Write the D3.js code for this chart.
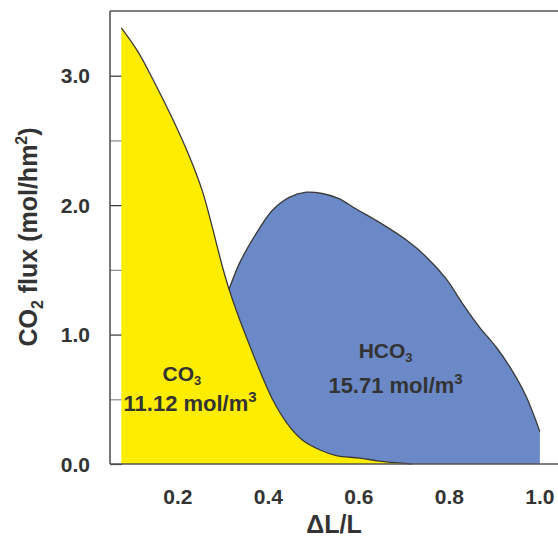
<!DOCTYPE html>
<html>
<head>
<meta charset="utf-8">
<script src="https://cdn.jsdelivr.net/npm/d3@7"></script>
<style>
  html, body { margin: 0; padding: 0; background: #fff; }
  svg { display: block; }
  text { font-family: "Liberation Sans", Arial, Helvetica, sans-serif; font-weight: bold; fill: #333; }
</style>
</head>
<body>
<svg id="chart" width="558" height="537"></svg>
<script>
// CO3 flux profile along the normalised length
const co3X = [0.075, 0.111, 0.148, 0.185, 0.225, 0.254, 0.276, 0.298, 0.314, 0.336, 0.365, 0.387, 0.409, 0.440, 0.475, 0.513, 0.550, 0.601, 0.645, 0.690, 0.718];
const co3Y = [3.37, 3.19, 2.95, 2.69, 2.38, 2.11, 1.83, 1.53, 1.34, 1.12, 0.86, 0.67, 0.50, 0.32, 0.185, 0.11, 0.065, 0.046, 0.023, 0.008, 0.0];

// HCO3 flux profile along the normalised length
const hco3X = [0.300, 0.336, 0.373, 0.409, 0.446, 0.484, 0.519, 0.556, 0.594, 0.639, 0.705, 0.749, 0.793, 0.829, 0.866, 0.904, 0.939, 0.970, 1.000];
const hco3Y = [1.22, 1.55, 1.78, 1.96, 2.06, 2.10, 2.09, 2.05, 1.97, 1.88, 1.73, 1.60, 1.43, 1.24, 1.06, 0.90, 0.72, 0.52, 0.25];

// Axis ticks
const yMajorTicks = [0, 1, 2, 3];
const yMajorLabels = ["0.0", "1.0", "2.0", "3.0"];
const yMinorTicks = [0.5, 1.5, 2.5];
const xTicks = [0.2, 0.4, 0.6, 0.8, 1.0];
const xLabels = ["0.2", "0.4", "0.6", "0.8", "1.0"];

// Integrated concentration annotations
const co3Total = "11.12";
const hco3Total = "15.71";

const svg = d3.select("#chart");
const plotLeft = 110, plotRight = 558, plotTop = 11, plotBottom = 464;

const x = d3.scaleLinear().domain([0.05, 1.04]).range([plotLeft, plotRight]);
const y = d3.scaleLinear().domain([0, 3.5]).range([plotBottom, plotTop]);

const co3 = co3X.map((v, i) => [v, co3Y[i]]);
const hco3 = hco3X.map((v, i) => [v, hco3Y[i]]);

// Y tick marks (inside the frame, beneath the areas)
const yAxis = d3.axisRight(y).tickValues(yMajorTicks).tickSize(12).tickFormat("");
const gy = svg.append("g").attr("transform", `translate(${plotLeft},0)`).call(yAxis);
gy.select(".domain").remove();
gy.selectAll(".tick line").attr("stroke", "#333").attr("stroke-width", 1.2);

const yMinor = d3.axisRight(y).tickValues(yMinorTicks).tickSize(12).tickFormat("");
const gym = svg.append("g").attr("transform", `translate(${plotLeft},0)`).call(yMinor);
gym.select(".domain").remove();
gym.selectAll(".tick line").attr("stroke", "#888").attr("stroke-width", 1.2);

// Smooth area and outline generators
const curve = d3.curveCatmullRom.alpha(0.5);
const areaGen = d3.area().x(d => x(d[0])).y0(y(0)).y1(d => y(Math.max(0, d[1]))).curve(curve);
const lineGen = d3.line().x(d => x(d[0])).y(d => y(d[1])).curve(curve);

// HCO3 area
svg.append("path").datum(hco3).attr("d", areaGen).attr("fill", "#6a89c6");
svg.append("path").datum(hco3).attr("d", lineGen).attr("fill", "none")
  .attr("stroke", "#3a3a3a").attr("stroke-width", 1.3);

// CO3 area on top
svg.append("path").datum(co3).attr("d", areaGen).attr("fill", "#ffed00");
svg.append("path").datum(co3).attr("d", lineGen).attr("fill", "none")
  .attr("stroke", "#3a3a3a").attr("stroke-width", 1.3);

// Frame: left, top and bottom
const frame = svg.append("g").attr("stroke", "#555").attr("stroke-width", 1.6).attr("fill", "none");
frame.append("line").attr("x1", plotLeft).attr("x2", plotLeft).attr("y1", plotTop).attr("y2", plotBottom);
frame.append("line").attr("x1", plotLeft).attr("x2", plotRight).attr("y1", plotTop).attr("y2", plotTop);
frame.append("line").attr("x1", plotLeft).attr("x2", plotRight).attr("y1", plotBottom).attr("y2", plotBottom);

// Tick labels
svg.append("g").selectAll("text").data(yMajorTicks).join("text")
  .attr("x", 90).attr("y", d => y(d)).attr("dy", "0.36em")
  .attr("text-anchor", "end").attr("font-size", 21)
  .text((d, i) => yMajorLabels[i]);

svg.append("g").selectAll("text").data(xTicks).join("text")
  .attr("x", d => x(d)).attr("y", 504)
  .attr("text-anchor", "middle").attr("font-size", 21)
  .text((d, i) => xLabels[i]);

// Axis titles
svg.append("text").attr("x", x(0.545)).attr("y", 533).attr("text-anchor", "middle")
  .attr("font-size", 25).text("\u0394L/L");

const yt = svg.append("text").attr("transform", "translate(37,237) rotate(-90)")
  .attr("text-anchor", "middle").attr("font-size", 25);
yt.append("tspan").text("CO");
yt.append("tspan").attr("font-size", 16).attr("dy", 6).text("2");
yt.append("tspan").attr("dy", -6).text(" flux (mol/hm");
yt.append("tspan").attr("font-size", 16).attr("dy", -10).text("2");
yt.append("tspan").attr("dy", 10).text(")");

// Area annotations
function chemLabel(cx, cy, base, sub) {
  const t = svg.append("text").attr("x", x(cx)).attr("y", y(cy))
    .attr("text-anchor", "middle").attr("font-size", 21);
  t.append("tspan").text(base);
  t.append("tspan").attr("font-size", 13).attr("dy", 4).text(sub);
}
function concLabel(cx, cy, value) {
  const t = svg.append("text").attr("x", x(cx)).attr("y", y(cy))
    .attr("text-anchor", "middle").attr("font-size", 22);
  t.append("tspan").text(value + " mol/m");
  t.append("tspan").attr("font-size", 15).attr("dy", -9).text("3");
}
chemLabel(0.209, 0.64, "CO", "3");
concLabel(0.227, 0.412, co3Total);
chemLabel(0.659, 0.82, "HCO", "3");
concLabel(0.681, 0.549, hco3Total);
</script>
</body>
</html>
